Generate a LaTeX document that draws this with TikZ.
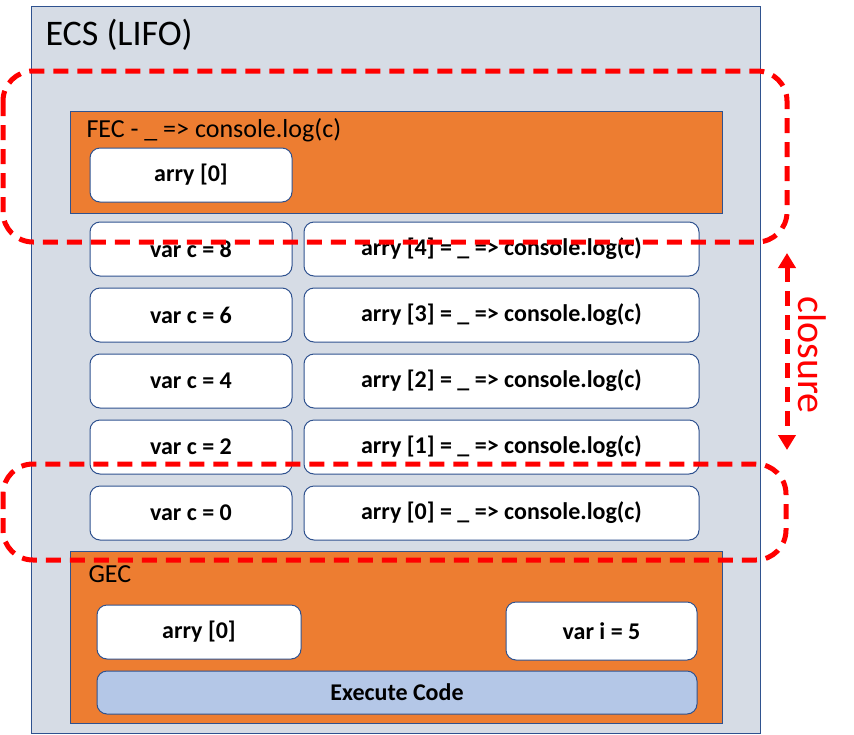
\documentclass[tikz,border=0pt]{standalone}
\usepackage{fontspec}
\setmainfont{Carlito}
\usetikzlibrary{arrows.meta,positioning}

\definecolor{ecsgrey}{HTML}{D6DCE5}
\definecolor{edgeblue}{HTML}{2F528F}
\definecolor{ctxorange}{HTML}{ED7D31}
\definecolor{execblue}{HTML}{B4C7E7}

\tikzset{
  frame/.style={draw=edgeblue, line width=1pt, inner sep=0pt, outer sep=0pt},
  ctx/.style={frame, fill=ctxorange, anchor=north west, minimum width=652pt},
  cell/.style={frame, fill=white, rounded corners=10pt, minimum height=54pt,
               font=\fontsize{24}{28}\selectfont\bfseries},
  closureline/.style={draw=red, line width=5pt, dash pattern=on 15pt off 9pt},
}

\begin{document}
\begin{tikzpicture}[x=1pt,y=-1pt]
                \useasboundingbox (0,0) rectangle (854,734);

                \node [frame, fill=ecsgrey, anchor=north west,
                        minimum width=729pt, minimum height=727pt]
                                        (ecs) at (31,6) {};
                \node [anchor=west, font=\fontsize{36}{40}\selectfont]
                                        (ecstitle) at (42,35) {ECS (LIFO)};

                \node [ctx, minimum height=102pt] (fec) at (70,111) {};
                \node [anchor=west, font=\fontsize{26}{30}\selectfont]
                                        (fectitle) at (83,130) {FEC - \_ => console.log(c)};
                \node [cell, minimum width=202pt, anchor=north west]
                                        (fecarry) at (90,148) {arry [0]};

                \foreach \c/\i [count=\r from 0] in {8/4,6/3,4/2,2/1,0/0} {
                    \node [cell, minimum width=202pt, anchor=north west]
                                        (varc\c) at (90,{222+66*\r}) {var c = \c};
                    \node [cell, minimum width=395pt,
                            right = 12pt of varc\c]
                                        (arry\i) {arry [\i] = \_ => console.log(c)};
                }

                \node [ctx, minimum height=172pt] (gec) at (70,551) {};
                \node [anchor=west, font=\fontsize{26}{30}\selectfont]
                                        (gectitle) at (85,574) {GEC};
                \node [cell, minimum width=204pt, anchor=north west]
                                        (gecarry) at (97,605) {arry [0]};
                \node [cell, minimum width=191pt, minimum height=58pt, anchor=north west]
                                        (vari) at (506,602) {var i = 5};
                \node [cell, fill=execblue, minimum width=600pt, minimum height=43pt,
                        anchor=north west]
                                        (exec) at (97,671) {Execute Code};

                \draw[closureline, rounded corners=30pt] (3,71) rectangle (787,242);
                \draw[closureline, rounded corners=30pt] (3,464) rectangle (786,560);

                \coordinate (cltop) at (787,253);
                \coordinate (clbot) at (787,450);
                \draw[closureline, {Triangle[width=17pt,length=15pt]}-{Triangle[width=17pt,length=15pt]}]
                                        (cltop) -- (clbot);
                \node [rotate=-90, text=red, font=\fontsize{40}{44}\selectfont]
                                        (closurelabel) at (812,355) {closure};
\end{tikzpicture}
\end{document}
